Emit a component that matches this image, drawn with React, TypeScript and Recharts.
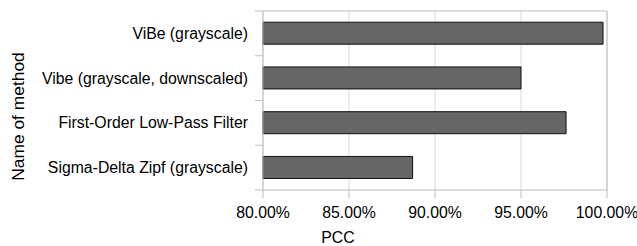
import { Bar, BarChart, CartesianGrid, Label, XAxis, YAxis } from "recharts";

const METHODS = [
  "ViBe (grayscale)",
  "Vibe (grayscale, downscaled)",
  "First-Order Low-Pass Filter",
  "Sigma-Delta Zipf (grayscale)",
];
const PCC = [99.77, 95.0, 97.62, 88.7];
const PCC_TICKS = [80, 85, 90, 95, 100];

const data = METHODS.map((name, i) => ({ name, pcc: PCC[i] }));

const FONT = "'Liberation Sans', Arial, sans-serif";
const FONT_SIZE = 15.8;
const TITLE_SIZE = 17.4;
const AXIS_GRAY = "#bdbdbd";
const GRID_GRAY = "#d9d9d9";
const TICK_SIZE = 8;
const TICK_MARGIN = 7;

function MethodTick(props: any) {
  const { x, y, payload, index, visibleTicksCount } = props;
  const half = payload.offset ?? 0;
  const lineX1 = x + TICK_MARGIN;
  const lineX2 = lineX1 + TICK_SIZE;
  return (
    <g>
      <line x1={lineX1} x2={lineX2} y1={y - half} y2={y - half} stroke={AXIS_GRAY} />
      {index === visibleTicksCount - 1 && (
        <line x1={lineX1} x2={lineX2} y1={y + half} y2={y + half} stroke={AXIS_GRAY} />
      )}
      <text x={x} y={y} dy="0.355em" textAnchor="end" fill="#000" fontSize={FONT_SIZE} fontFamily={FONT}>
        {payload.value}
      </text>
    </g>
  );
}

export default function App() {
  return (
    <div style={{ fontFamily: FONT }}>
      <style>{"body{margin:0}"}</style>
      <BarChart
        width={637}
        height={246}
        data={data}
        layout="vertical"
        margin={{ top: 11, right: 30, left: 0, bottom: 0 }}
        barCategoryGap="25%"
      >
        <CartesianGrid horizontal={false} stroke={GRID_GRAY} />
        <CartesianGrid
          stroke={AXIS_GRAY}
          horizontalCoordinatesGenerator={(p: any) => [p.offset.top]}
          verticalCoordinatesGenerator={(p: any) => [p.offset.left + p.offset.width]}
        />
        <XAxis
          type="number"
          dataKey="pcc"
          domain={[80, 100]}
          ticks={PCC_TICKS}
          interval={0}
          height={56}
          stroke={AXIS_GRAY}
          tickSize={TICK_SIZE}
          tickMargin={9}
          tick={{ fill: "#000", fontSize: FONT_SIZE, fontFamily: FONT }}
          tickFormatter={(v: number) => `${v.toFixed(2)}%`}
        >
          <Label value="PCC" position="insideBottom" offset={3} dx={-97} fill="#000" fontSize={FONT_SIZE} fontFamily={FONT} />
        </XAxis>
        <YAxis
          type="category"
          dataKey="name"
          width={263}
          stroke={AXIS_GRAY}
          tickLine={false}
          tickSize={TICK_SIZE}
          tickMargin={TICK_MARGIN}
          tick={<MethodTick />}
          interval={0}
        >
          <Label
            content={({ viewBox }: any) => (
              <text
                x={viewBox.x + 18}
                y={viewBox.y + viewBox.height / 2 + 16}
                transform={`rotate(-90 ${viewBox.x + 18} ${viewBox.y + viewBox.height / 2 + 16})`}
                textAnchor="middle"
                dy="0.355em"
                fill="#000"
                fontSize={TITLE_SIZE}
                fontFamily={FONT}
              >
                Name of method
              </text>
            )}
          />
        </YAxis>
        <Bar dataKey="pcc" fill="#666666" stroke="#111111" strokeWidth={1} isAnimationActive={false} />
      </BarChart>
    </div>
  );
}
